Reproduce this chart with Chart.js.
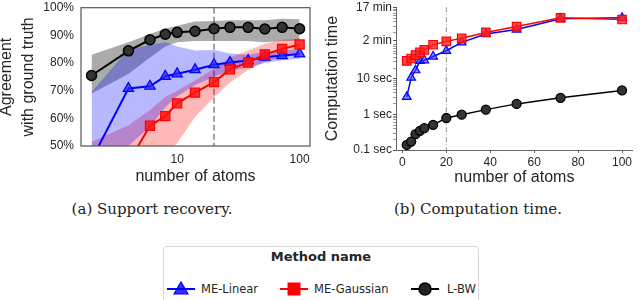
<!DOCTYPE html>
<html>
<head>
<meta charset="utf-8">
<script src="https://cdn.jsdelivr.net/npm/chart.js@4.4.0/dist/chart.umd.min.js"></script>
<style>
  body { margin: 0; background: #fff; width: 640px; height: 300px; overflow: hidden; position: relative; font-family: "DejaVu Sans", sans-serif; }
  #c1 { position: absolute; left: 0; top: 0; }
  #c2 { position: absolute; left: 320px; top: 0; }
  .cap { position: absolute; top: 200px; width: 320px; text-align: center; font-family: "DejaVu Serif", serif; font-size: 15px; color: #222; }
  #legend { position: absolute; left: 163px; top: 246px; width: 314px; height: 70px; border: 1px solid #d6d6d6; border-radius: 4px; background: #fff; }
  #legend .ttl { position: absolute; left: 0; width: 314px; top: 2px; text-align: center; font-weight: bold; font-size: 13px; color: #262626; }
  #legend .it { position: absolute; top: 34px; font-size: 11.5px; color: #262626; line-height: 16px; }
  #legend svg { position: absolute; top: 34px; }
</style>
</head>
<body>
<canvas id="c1" width="320" height="190"></canvas>
<canvas id="c2" width="320" height="190"></canvas>
<div class="cap" style="left:-8px">(a) Support recovery.</div>
<div class="cap" style="left:318px">(b) Computation time.</div>
<div id="legend">
  <div class="ttl">Method name</div>
  <svg style="left:3px" width="28" height="16"><line x1="0" y1="8" x2="28" y2="8" stroke="#0000ff" stroke-width="2"/><polygon points="14,1 21,13 7,13" fill="rgba(0,0,255,0.8)" stroke="#0000ff" stroke-width="1.2"/></svg>
  <div class="it" style="left:37px">ME-Linear</div>
  <svg style="left:116px" width="28" height="16"><line x1="0" y1="8" x2="28" y2="8" stroke="#ff0000" stroke-width="2"/><rect x="8" y="2" width="12" height="12" fill="#ff0000" stroke="#ff0000"/></svg>
  <div class="it" style="left:150px">ME-Gaussian</div>
  <svg style="left:247px" width="28" height="16"><line x1="0" y1="8" x2="28" y2="8" stroke="#000" stroke-width="2"/><circle cx="14" cy="8" r="6" fill="#222" stroke="#000" stroke-width="1.5"/></svg>
  <div class="it" style="left:283px">L-BW</div>
</div>

<script>
// nombre d'atomes (axe x des deux graphiques)
const atoms = [2, 4, 6, 8, 10, 14, 20, 27, 38, 52, 72, 100];

// graphique (a) : accord avec la vérité terrain, en %
const linAgree = [45, 70.8, 71.6, 75.2, 76.1, 77.6, 79.4, 80.2, 80.9, 82.1, 82.7, 83.3];
const linHigh  = [69.5, 85, 86.5, 87.5, 86, 84.5, 84.7, 83.4, 83, 84, 84.5, 85];
const linLow   = [28, 50, 57, 64, 68, 72, 75, 77, 78.5, 80, 81, 81.5];

const gauAgree = [36, 44, 57.3, 60.8, 65.4, 69.3, 73.1, 77.7, 80.2, 83.1, 85.1, 86.7];
const gauHigh  = [51.5, 57.5, 63, 67.7, 70, 73.7, 78, 82, 84.5, 87, 88.4, 89];
const gauLow   = [30, 36, 42, 47, 51, 60.5, 67.5, 73, 77.5, 80.5, 82, 83.3];

const lbwAgree = [75.5, 84.4, 88.4, 90.4, 91.1, 91.5, 92.4, 92.9, 92.9, 92.3, 92.9, 92.4];
const lbwHigh  = [83, 87.5, 90.5, 92.5, 93.5, 95, 95.2, 95.5, 95.5, 95.5, 96, 95.8];
const lbwLow   = [69, 76, 82, 86, 87.5, 88, 88, 88, 88, 87.5, 88, 88];

// graphique (b) : temps de calcul, en secondes
const linTime = [3.1, 10.7, 17.3, 31.6, 33, 42, 61, 105, 181, 240, 482, 513];
const gauTime = [31.6, 37, 46, 55, 65, 90, 112, 137, 200, 292, 513, 460];
const lbwTime = [0.139, 0.172, 0.279, 0.345, 0.41, 0.51, 0.79, 0.98, 1.36, 1.97, 2.92, 4.69];

const agreeTicks = [50, 60, 70, 80, 90, 100];
const atomTicksLog = [10, 100];
const atomTicksLin = [0, 20, 40, 60, 80, 100];
const timeTicks = [0.1, 1, 10, 120, 1020];
const timeLabels = ['0.1 sec', '1 sec', '10 sec', '2 min', '17 min'];
const markerAtoms = 20;

const txt = '#262626';
const pts = vals => vals.map((v, i) => ({ x: atoms[i], y: v }));

function band(vals, color, fill, order) {
  return { data: pts(vals), borderColor: 'transparent', borderWidth: 0, pointRadius: 0,
           backgroundColor: color, fill: fill, order: order, tension: 0 };
}

// pas de marge automatique autour des axes, la mise en page est fixée à la main
const noPadY = w => s => { s.width = w; s.paddingTop = 0; s.paddingBottom = 0; };
const noPadX = h => s => { s.height = h; s.paddingLeft = 0; s.paddingRight = 0; };

// ligne verticale en pointillés à x = 20
const vline = {
  id: 'vline',
  beforeDatasetsDraw(chart, args, opts) {
    const x = chart.scales.x.getPixelForValue(markerAtoms);
    const a = chart.chartArea;
    const ctx = chart.ctx;
    ctx.save();
    ctx.strokeStyle = opts.color;
    ctx.lineWidth = opts.width;
    ctx.setLineDash(opts.dash);
    ctx.beginPath();
    ctx.moveTo(x, a.top);
    ctx.lineTo(x, a.bottom);
    ctx.stroke();
    ctx.restore();
  }
};

// cadre complet autour du graphique (a)
const frame = {
  id: 'frame',
  afterDraw(chart, args, opts) {
    if (!opts.on) return;
    const a = chart.chartArea;
    const ctx = chart.ctx;
    ctx.save();
    ctx.strokeStyle = '#555';
    ctx.lineWidth = 1.2;
    ctx.strokeRect(a.left, a.top, a.right - a.left, a.bottom - a.top);
    ctx.restore();
  }
};

new Chart(document.getElementById('c1'), {
  type: 'line',
  data: {
    datasets: [
      band(lbwHigh, 'rgba(0,0,0,0.33)', '+1', 12),
      band(lbwLow, 'transparent', false, 12),
      band(linHigh, 'rgba(0,0,255,0.28)', '+1', 10),
      band(linLow, 'transparent', false, 10),
      band(gauHigh, 'rgba(255,0,0,0.28)', '+1', 11),
      band(gauLow, 'transparent', false, 11),
      { data: pts(linAgree), borderColor: '#0000ff', borderWidth: 2, pointStyle: 'triangle', pointRadius: 6,
        pointBackgroundColor: 'rgba(40,40,255,0.75)', pointBorderColor: '#0000ff', pointBorderWidth: 1.2, order: 3, fill: false },
      { data: pts(gauAgree), borderColor: '#ff0000', borderWidth: 2, pointStyle: 'rect', pointRadius: 6.5,
        pointBackgroundColor: 'rgba(255,20,20,0.85)', pointBorderColor: '#ff0000', pointBorderWidth: 1.2, order: 2, fill: false },
      { data: pts(lbwAgree), borderColor: '#000', borderWidth: 2, pointStyle: 'circle', pointRadius: 5,
        pointBackgroundColor: '#333', pointBorderColor: '#000', pointBorderWidth: 1.5, order: 1, fill: false }
    ]
  },
  options: {
    responsive: false,
    animation: false,
    layout: { padding: { top: 7, right: 10, left: 0, bottom: 0 } },
    scales: {
      x: {
        type: 'logarithmic', min: 1.64, max: 121.6,
        afterBuildTicks: s => { s.ticks = atomTicksLog.map(v => ({ value: v })); },
        afterFit: noPadX(44),
        grid: { display: false, drawTicks: false },
        border: { display: false },
        ticks: { color: txt, font: { size: 12 }, padding: 6, autoSkip: false, maxRotation: 0, callback: v => String(v) },
        title: { display: true, text: 'number of atoms', color: txt, font: { size: 16, lineHeight: 1.25 }, padding: { top: 0, bottom: 3 } }
      },
      y: {
        min: 50, max: 100,
        afterBuildTicks: s => { s.ticks = agreeTicks.map(v => ({ value: v })); },
        afterFit: noPadY(81),
        grid: { display: false, drawTicks: false },
        border: { display: false },
        ticks: { color: txt, font: { size: 12 }, padding: 7, callback: v => v + '%' },
        title: { display: true, text: ['Agreement', 'with ground truth'], color: txt, font: { size: 16, lineHeight: 1.35 }, padding: { top: -4, bottom: 0 } }
      }
    },
    plugins: {
      legend: { display: false },
      tooltip: { enabled: false },
      vline: { color: '#8c8c8c', width: 1.6, dash: [6, 3] },
      frame: { on: true }
    }
  },
  plugins: [vline, frame]
});

// petites graduations mineures de l'axe log
const minorTicks = [];
[0.1, 1, 10, 100].forEach(d => { for (let k = 2; k <= 9; k++) minorTicks.push(d * k); });

new Chart(document.getElementById('c2'), {
  type: 'line',
  data: {
    datasets: [
      { data: pts(linTime), borderColor: '#0000ff', borderWidth: 1.5, pointStyle: 'triangle', pointRadius: 5,
        pointBackgroundColor: 'rgba(60,60,255,0.6)', pointBorderColor: '#0000ff', pointBorderWidth: 1.2, order: 3 },
      { data: pts(gauTime), borderColor: '#ff0000', borderWidth: 1.5, pointStyle: 'rect', pointRadius: 6,
        pointBackgroundColor: 'rgba(255,30,30,0.8)', pointBorderColor: '#ff0000', pointBorderWidth: 1.2, order: 2 },
      { data: pts(lbwTime), borderColor: '#000', borderWidth: 1.5, pointStyle: 'circle', pointRadius: 4.5,
        pointBackgroundColor: '#333', pointBorderColor: '#000', pointBorderWidth: 1.3, order: 1 }
    ]
  },
  options: {
    responsive: false,
    animation: false,
    layout: { padding: { top: 7, right: 1, left: 0, bottom: 0 } },
    scales: {
      x: {
        type: 'linear', min: -2.9, max: 104.9,
        afterBuildTicks: s => { s.ticks = atomTicksLin.map(v => ({ value: v })); },
        afterFit: noPadX(40),
        grid: { drawOnChartArea: false, drawTicks: true, tickLength: 3, tickColor: '#666' },
        border: { display: true, color: '#666', width: 1 },
        ticks: { color: txt, font: { size: 12 }, padding: 2, autoSkip: false, maxRotation: 0 },
        title: { display: true, text: 'number of atoms', color: txt, font: { size: 16, lineHeight: 1.25 }, padding: { top: 0, bottom: 2 } }
      },
      y: {
        type: 'logarithmic', min: 0.1, max: 1020,
        afterBuildTicks: s => { s.ticks = timeTicks.concat(minorTicks).map(v => ({ value: v })); },
        afterFit: noPadY(76),
        grid: { drawOnChartArea: false, drawTicks: true, tickLength: 3,
                tickColor: c => timeTicks.includes(c.tick.value) ? '#555' : '#999' },
        border: { display: true, color: '#666', width: 1 },
        ticks: { color: txt, font: { size: 12 }, padding: 1, autoSkip: false,
                 callback: v => { const i = timeTicks.indexOf(v); return i >= 0 ? timeLabels[i] : ''; } },
        title: { display: true, text: 'Computation time', color: txt, font: { size: 16, lineHeight: 1.25 }, padding: { top: 3, bottom: 0 } }
      }
    },
    plugins: {
      legend: { display: false },
      tooltip: { enabled: false },
      vline: { color: '#8c8c8c', width: 1, dash: [5, 2, 1, 2] },
      frame: { on: false }
    }
  },
  plugins: [vline, frame]
});
</script>
</body>
</html>
